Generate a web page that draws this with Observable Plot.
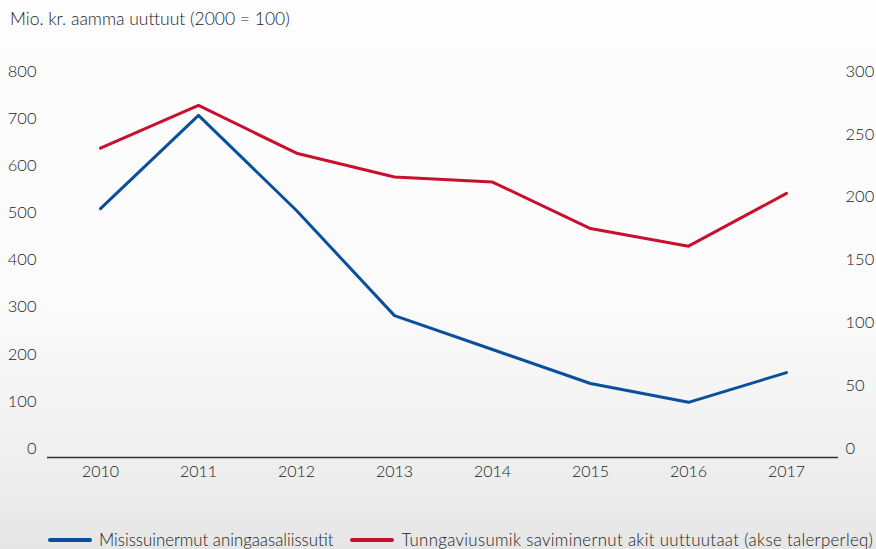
<!DOCTYPE html>
<html>
<head>
<meta charset="utf-8">
<script src="https://cdn.jsdelivr.net/npm/d3@7"></script>
<script src="https://cdn.jsdelivr.net/npm/@observablehq/plot@0.6"></script>
<style>
  html, body { margin: 0; padding: 0; }
  body {
    width: 876px; height: 549px; overflow: hidden;
    background: linear-gradient(to bottom, #fdfdfd 0%, #fbfbfb 55%, #f1f1f1 80%, #e6e6e6 100%);
    font-family: Lato, "Open Sans", sans-serif; color: #222; font-weight: 300;
  }
  #title { height: 40px; box-sizing: border-box; padding: 9px 0 0 10px; font-size: 17.5px; line-height: 20px; }
  #legend { position: absolute; top: 529px; left: 48px; font-size: 16.8px; display: flex; align-items: center; white-space: nowrap; }
  .sw { display: inline-block; width: 44px; height: 4px; margin-right: 7px; border-radius: 2px; }
  .item { display: flex; align-items: center; margin-right: 17px; }
  .item:nth-child(2) span:last-child { letter-spacing: 0.35px; }
  #chart svg { overflow: visible; font-weight: 300; }
</style>
</head>
<body>
<div id="title">Mio. kr. aamma uuttuut (2000 = 100)</div>
<div id="chart"></div>
<div id="legend"></div>
<script>
const years = ["2010","2011","2012","2013","2014","2015","2016","2017"];
const investment = [509, 707, 505, 282, 210, 138, 98, 161];      // left axis, mio. kr.
const priceIndex = [239, 273, 235, 216, 212, 175, 161, 203];     // right axis, 2000 = 100
const leftTicks = [0, 100, 200, 300, 400, 500, 600, 700, 800];
const rightTicks = [0, 50, 100, 150, 200, 250, 300];
const seriesNames = ["Misissuinermut aningaasaliissutit", "Tunngaviusumik saviminernut akit uuttuutaat (akse talerperleq)"];
const colors = ["#0a4f9c", "#c8102e"];

const leftMax = 800, rightMax = 300;
const k = leftMax / rightMax;

const blueData = years.map((y, i) => ({year: y, value: investment[i]}));
const redData = years.map((y, i) => ({year: y, value: priceIndex[i] * k}));

const chart = Plot.plot({
  width: 876,
  height: 485,
  marginTop: 31,
  marginBottom: 77,
  marginLeft: 47,
  marginRight: 38,
  style: {fontFamily: "Lato, 'Open Sans', sans-serif", fontSize: "16px", color: "#222", background: "transparent", overflow: "visible"},
  x: {type: "band", domain: years, padding: 0},
  y: {domain: [0, leftMax]},
  marks: [
    Plot.axisX({ticks: years, tickSize: 0, tickPadding: 17, label: null, fontSize: 16}),
    Plot.axisY({ticks: leftTicks, anchor: "left", tickSize: 0, tickPadding: 11, label: null, fontSize: 16.5}),
    Plot.axisY({ticks: rightTicks.map(t => t * k), anchor: "right", tickSize: 0, tickPadding: 7, label: null, fontSize: 16.5,
      tickFormat: v => String(Math.round(v / k)), textAnchor: "start"}),
    Plot.ruleY([0], {dy: 9, stroke: "#333", strokeWidth: 1.5}),
    Plot.line(redData, {x: "year", y: "value", stroke: colors[1], strokeWidth: 3}),
    Plot.line(blueData, {x: "year", y: "value", stroke: colors[0], strokeWidth: 3})
  ]
});
document.getElementById("chart").appendChild(chart);

const legend = document.getElementById("legend");
seriesNames.forEach((name, i) => {
  const it = document.createElement("div");
  it.className = "item";
  it.innerHTML = `<span class="sw" style="background:${colors[i]}"></span><span>${name}</span>`;
  legend.appendChild(it);
});
</script>
</body>
</html>
